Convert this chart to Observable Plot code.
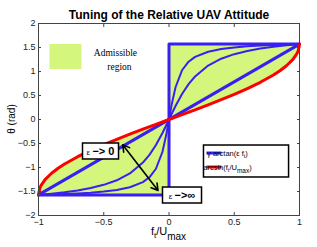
<!DOCTYPE html>
<html><head><meta charset="utf-8">
<script src="https://cdn.jsdelivr.net/npm/d3@7"></script>
<script src="https://cdn.jsdelivr.net/npm/@observablehq/plot@0.6"></script>
<style>body{margin:0;background:#fff}svg{display:block}</style>
</head><body><div id="chart"></div>
<script>
// ---- data ----
const curveF = [-1,-0.9,-0.8,-0.7,-0.6,-0.5,-0.4,-0.3,-0.2,-0.15,-0.1,-0.05,-0.02,0,0.02,0.05,0.1,0.15,0.2,0.3,0.4,0.5,0.6,0.7,0.8,0.9,1];
// gentle arctan curve (small epsilon)
const curveMid = [-1.571,-1.546,-1.516,-1.478,-1.428,-1.361,-1.266,-1.124,-0.898,-0.736,-0.530,-0.280,-0.114,0,0.114,0.280,0.530,0.736,0.898,1.124,1.266,1.361,1.428,1.478,1.516,1.546,1.571];
// steep arctan curve (large epsilon)
const curveHigh = [-1.571,-1.563,-1.554,-1.541,-1.525,-1.502,-1.468,-1.412,-1.304,-1.204,-1.026,-0.672,-0.304,0,0.304,0.672,1.026,1.204,1.304,1.412,1.468,1.502,1.525,1.541,1.554,1.563,1.571];
// epsilon -> 0 (straight) and epsilon -> infinity (step)
const lineF = [-1, 1];
const lineTheta = [-1.571, 1.571];
const stepF = [-1, 0, 0, 1];
const stepTheta = [-1.571, -1.571, 1.571, 1.571];
// arcsin bound
const asinF = [-1,-0.99,-0.98,-0.95,-0.9,-0.85,-0.8,-0.7,-0.6,-0.5,-0.4,-0.3,-0.2,-0.1,0,0.1,0.2,0.3,0.4,0.5,0.6,0.7,0.8,0.85,0.9,0.95,0.98,0.99,1];
const asinTheta = [-1.571,-1.429,-1.371,-1.253,-1.120,-1.016,-0.927,-0.775,-0.644,-0.524,-0.412,-0.305,-0.201,-0.100,0,0.100,0.201,0.305,0.412,0.524,0.644,0.775,0.927,1.016,1.120,1.253,1.371,1.429,1.571];
// axes
const xTicks = [-1, -0.5, 0, 0.5, 1];
const yTicks = [-2, -1.5, -1, -0.5, 0, 0.5, 1, 1.5, 2];
// annotation anchors (data units)
const arrowMid = [-0.22, -1.0];
const arrowEnds = [[-0.355, -0.527], [-0.084, -1.479]];
const zeroBox = [-0.659, -0.383, -0.5, -0.833];
const infBox = [-0.046, 0.253, -1.417, -1.75];
const legendBox = [0.268, 0.92, -0.542, -1.208];
const admPatch = [-0.912, -0.667, 1.5625, 1.042];

const BLUE = "#3a1ff2", RED = "#ff0000", GREEN = "#d5f67d";

const pts = (fs, ts) => fs.map((f, i) => ({f, t: ts[i]}));
const fillRows = asinF.flatMap((f, i) => {
  const r = [];
  if (f <= 0) r.push({f, lo: stepTheta[0], hi: asinTheta[i], side: "neg"});
  if (f >= 0) r.push({f, lo: asinTheta[i], hi: stepTheta[3], side: "pos"});
  return r;
});
const fmt = d => String(d).replace("-", "\u2212");

const chart = Plot.plot({
  width: 317, height: 247,
  marginLeft: 38, marginRight: 18, marginTop: 23, marginBottom: 32,
  style: {fontFamily: "Liberation Sans, Arial, sans-serif", fontSize: "9px", color: "#222", background: "#fff"},
  x: {domain: [-1, 1]},
  y: {domain: [-2, 2]},
  marks: [
    Plot.areaY(fillRows, {x: "f", y1: "lo", y2: "hi", z: "side", fill: GREEN}),
    Plot.line(pts(curveF, curveMid), {x: "f", y: "t", stroke: BLUE, strokeWidth: 2}),
    Plot.line(pts(curveF, curveHigh), {x: "f", y: "t", stroke: BLUE, strokeWidth: 2}),
    Plot.line(pts(lineF, lineTheta), {x: "f", y: "t", stroke: BLUE, strokeWidth: 3}),
    Plot.line(pts(stepF, stepTheta), {x: "f", y: "t", stroke: BLUE, strokeWidth: 3}),
    Plot.line(pts(asinF, asinTheta), {x: "f", y: "t", stroke: RED, strokeWidth: 3}),
    Plot.arrow(arrowEnds, {x1: () => arrowMid[0], y1: () => arrowMid[1], x2: d => d[0], y2: d => d[1], stroke: "#000", strokeWidth: 1.6, headLength: 7, bend: 0}),
    // boxes
    Plot.rect([zeroBox, infBox], {x1: d => d[0], x2: d => d[1], y1: d => d[2], y2: d => d[3], fill: "#fff", stroke: "#000", strokeWidth: 1.5}),
    Plot.rect([legendBox], {x1: d => d[0], x2: d => d[1], y1: d => d[2], y2: d => d[3], fill: "#fff", stroke: "#000", strokeWidth: 1.5}),
    Plot.rect([admPatch], {x1: d => d[0], x2: d => d[1], y1: d => d[2], y2: d => d[3], fill: GREEN}),
    Plot.frame({stroke: "#444", strokeWidth: 1}),
    // inward ticks on all four sides
    Plot.axisX(xTicks, {anchor: "bottom", tickSize: -3, tickPadding: 6, stroke: "#444", label: null, tickFormat: fmt}),
    Plot.axisX(xTicks, {anchor: "top", tickSize: -3, text: null, label: null, stroke: "#444"}),
    Plot.axisY(yTicks, {anchor: "left", tickSize: -3, tickPadding: 6, stroke: "#444", label: null, tickFormat: fmt}),
    Plot.axisY(yTicks, {anchor: "right", tickSize: -3, text: null, label: null, stroke: "#444"}),
    Plot.text(["Tuning of the Relative UAV Attitude"], {frameAnchor: "top", lineAnchor: "bottom", dy: -5, fontWeight: "bold", fontSize: 12, fill: "#000"})
  ]
});

document.getElementById("chart").appendChild(chart);

// ---- rich text (subscripts) placed via the chart's own scales ----
const sx = chart.scale("x"), sy = chart.scale("y");
const svg = d3.select(chart);
const g = svg.append("g").attr("font-family", "Liberation Sans, Arial, sans-serif").attr("fill", "#000");

// x label
const xl = g.append("text").attr("x", (sx.apply(-1) + sx.apply(1)) / 2).attr("y", 235).attr("text-anchor", "middle").attr("font-size", 11);
xl.append("tspan").text("f");
xl.append("tspan").attr("font-size", 8).attr("dy", 3).text("t");
xl.append("tspan").attr("dy", -3).text("/U");
xl.append("tspan").attr("font-size", 10).attr("dy", 5).text("max");

// y label
g.append("text").attr("transform", `translate(15,${(sy.apply(-2) + sy.apply(2)) / 2}) rotate(-90)`).attr("text-anchor", "middle").attr("font-size", 10).text("\u03b8 (rad)");

// legend entries
const lx0 = sx.apply(legendBox[0]);
const ly0 = sy.apply(legendBox[2]);
g.append("line").attr("x1", lx0 + 3).attr("x2", lx0 + 18).attr("y1", ly0 + 8).attr("y2", ly0 + 8).attr("stroke", BLUE).attr("stroke-width", 3);
g.append("line").attr("x1", lx0 + 3).attr("x2", lx0 + 18).attr("y1", ly0 + 22).attr("y2", ly0 + 22).attr("stroke", RED).attr("stroke-width", 3);
const t1 = g.append("text").attr("x", lx0 + 24).attr("y", ly0 + 10.5).attr("font-size", 7.5);
t1.append("tspan").text("\u03b3 arctan(\u03b5 f");
t1.append("tspan").attr("font-size", 5.5).attr("dy", 2).text("t");
t1.append("tspan").attr("dy", -2).text(")");
const t2 = g.append("text").attr("x", lx0 + 24).attr("y", ly0 + 24.5).attr("font-size", 7.5);
t2.append("tspan").text("arcsin(f");
t2.append("tspan").attr("font-size", 5.5).attr("dy", 2).text("t");
t2.append("tspan").attr("dy", -2).text("/U");
t2.append("tspan").attr("font-size", 6.5).attr("dy", 3).text("max");
t2.append("tspan").attr("dy", -3).text(")");

// epsilon boxes
function epsLabel(box, tail) {
  const cx = (sx.apply(box[0]) + sx.apply(box[1])) / 2;
  const cy = (sy.apply(box[2]) + sy.apply(box[3])) / 2;
  const t = g.append("text").attr("x", cx).attr("y", cy + 4).attr("text-anchor", "middle");
  t.append("tspan").attr("font-size", 8).text("\u03b5 ");
  t.append("tspan").attr("font-size", 11).attr("font-weight", "bold").text(tail);
}
epsLabel(zeroBox, "\u2212> 0");
epsLabel(infBox, "\u2212>\u221e");

// admissible region label
const ax = sx.apply(admPatch[1]);
const ay = sy.apply(admPatch[2]);
const adm = g.append("g").attr("font-family", "Liberation Serif, Times New Roman, serif").attr("font-size", 9.5).attr("text-anchor", "middle");
adm.append("text").attr("x", ax + 34).attr("y", ay + 12).text("Admissible");
adm.append("text").attr("x", ax + 38).attr("y", ay + 26).text("region");
</script></body></html>
